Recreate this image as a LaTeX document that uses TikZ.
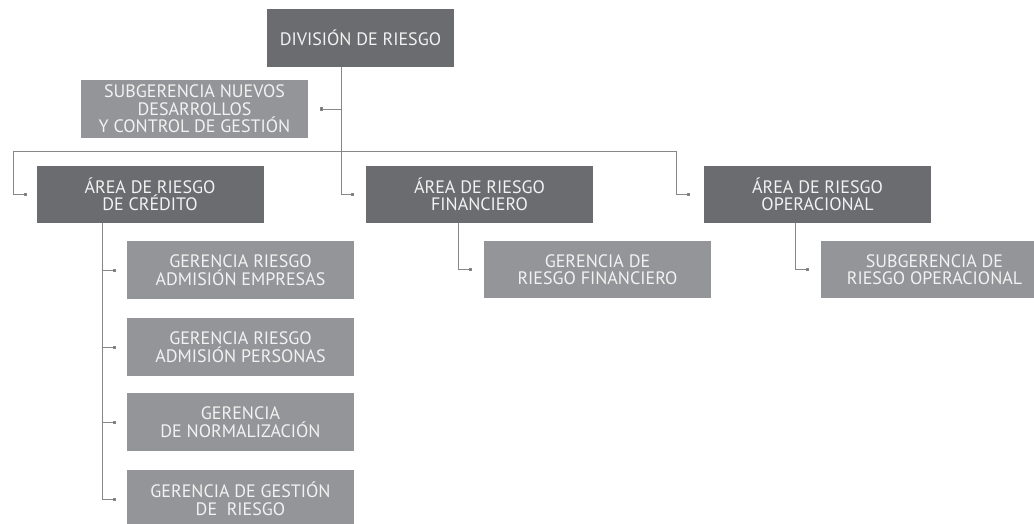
\documentclass[tikz,border=0pt]{standalone}
\usepackage{fontspec}
\setmainfont{PT Sans}
\usetikzlibrary{arrows.meta}

\definecolor{darkbox}{RGB}{107,108,111}
\definecolor{lightbox}{RGB}{148,149,152}
\definecolor{linegray}{RGB}{135,135,137}
\definecolor{boxtext}{RGB}{242,242,242}

\tikzset{
    unit/.style={text=boxtext, align=center, inner sep=0pt, minimum height=57,
        font=\fontsize{18}{17.5}\selectfont},
    head/.style={unit, fill=darkbox, minimum width=227},
    office/.style={unit, fill=lightbox, minimum width=227},
    conn/.style={draw=linegray, line width=0.9pt, -{Square[length=3pt,width=3pt,fill=darkbox]}},
    bus/.style={draw=linegray, line width=0.9pt}
}

\begin{document}
\begin{tikzpicture}[x=1pt, y=-1pt]
    \clip (0,0) rectangle (1034,524);

    % division and staff unit
    \node[head, minimum width=187, minimum height=58] (div) at (360.5,38) {DIVISIÓN DE RIESGO};
    \node[office, minimum height=58] (nuevos) at (194.5,109) {SUBGERENCIA NUEVOS\\DESARROLLOS\\Y CONTROL DE GESTIÓN};

    % areas
    \node[head] (credito) at (150,194.5) {ÁREA DE RIESGO\\DE CRÉDITO};
    \node[head] (financiero) at (479.5,194.5) {ÁREA DE RIESGO\\FINANCIERO};
    \node[head] (operacional) at (817.5,194.5) {ÁREA DE RIESGO\\OPERACIONAL};

    % offices
    \node[office, minimum height=58] (empresas) at (240.5,270) {GERENCIA RIESGO\\ADMISIÓN EMPRESAS};
    \node[office, minimum height=58] (personas) at (240.5,347) {GERENCIA RIESGO\\ADMISIÓN PERSONAS};
    \node[office, minimum height=58] (normal) at (240.5,422) {GERENCIA\\DE NORMALIZACIÓN};
    \node[office, minimum height=58] (gestion) at (240.5,499) {GERENCIA DE GESTIÓN\\DE~~RIESGO};
    \node[office] (gfin) at (597.5,269.5) {GERENCIA DE\\RIESGO FINANCIERO};
    \node[office] (gop) at (934.5,269.5) {SUBGERENCIA DE\\RIESGO OPERACIONAL};

    \coordinate (trunk) at (341,151);
    \coordinate (busL) at (13,151);
    \coordinate (busR) at (676,151);
    \coordinate (spine) at (102,0);

    \draw[bus] (div.south -| trunk) -- (trunk);
    \draw[conn] (nuevos.east -| trunk) -- ([xshift=12]nuevos.east);
    \draw[bus] (busL) -- (busR);

    \draw[conn] (busL) |- ([xshift=-9]credito.west);
    \draw[conn] (trunk) |- ([xshift=-12]financiero.west);
    \draw[conn] (busR) |- ([xshift=-14]operacional.west);

    \foreach \n in {empresas,personas,normal,gestion}
        \draw[conn] (credito.south -| spine) |- ([xshift=-11]\n.west);

    \draw[conn] ([xshift=-21]financiero.south) |- ([xshift=-12]gfin.west);
    \draw[conn] ([xshift=-22]operacional.south) |- ([xshift=-12]gop.west);

\end{tikzpicture}
\end{document}
